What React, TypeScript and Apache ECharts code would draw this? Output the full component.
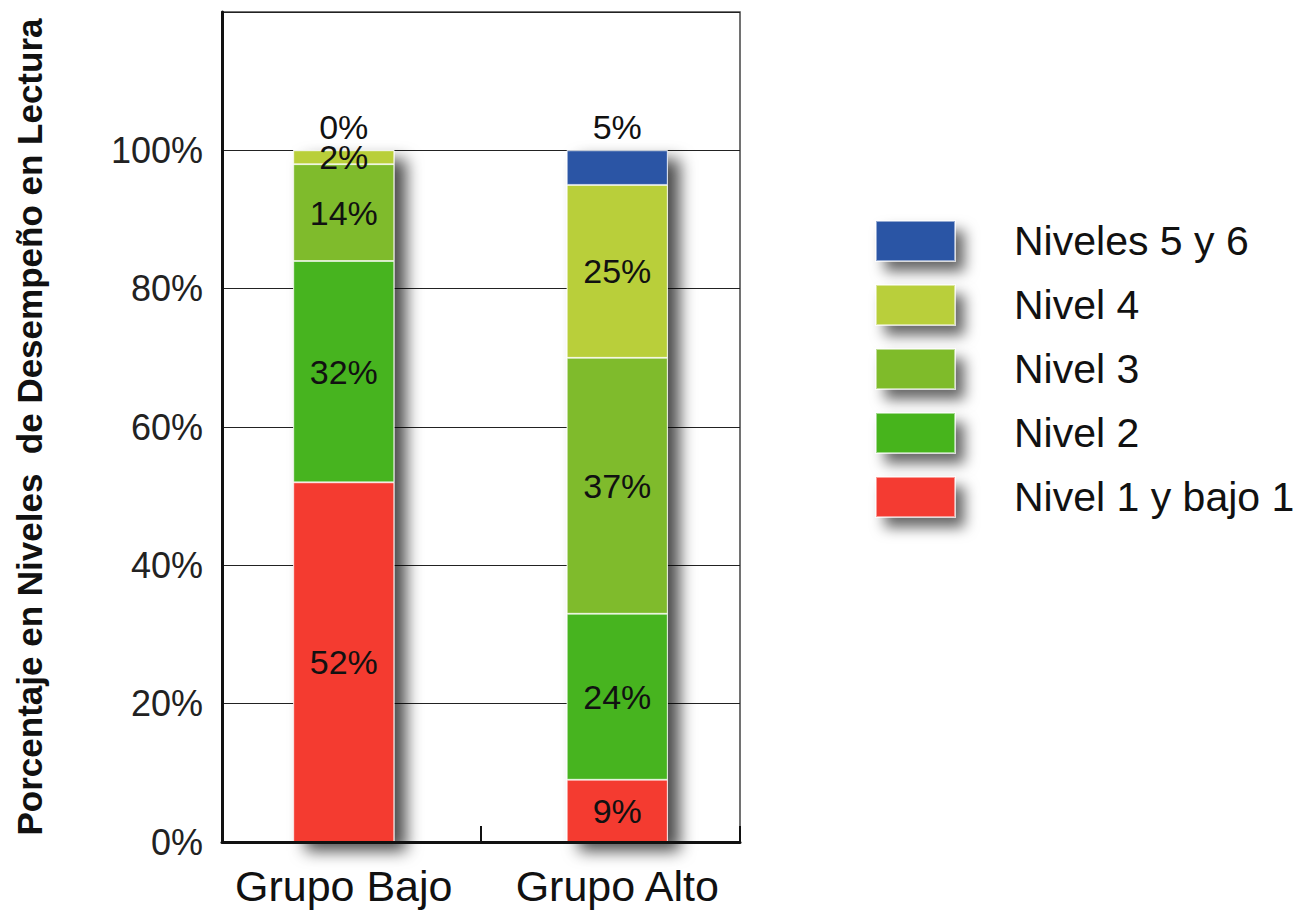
import React, { useEffect, useRef } from "react";
import * as echarts from "echarts";

const categories = ["Grupo Bajo", "Grupo Alto"];
const seriesNames = ["Nivel 1 y bajo 1", "Nivel 2", "Nivel 3", "Nivel 4", "Niveles 5 y 6"];
const nivel1 = [52, 9];
const nivel2 = [32, 24];
const nivel3 = [14, 37];
const nivel4 = [2, 25];
const nivel56 = [0, 5];
const yTicks = [0, 20, 40, 60, 80, 100];
const yTitle = "Porcentaje en Niveles  de Desempeño en Lectura";

const colors = ["#f43b30", "#47b41f", "#7fbb2c", "#b9cf3a", "#2b55a5"];
const font = "'Liberation Sans', Arial, Helvetica, sans-serif";

export default function App() {
  const ref = useRef<HTMLDivElement>(null);
  useEffect(() => {
    document.body.style.margin = "0";
    if (!ref.current) return;
    const chart = echarts.init(ref.current, null, { renderer: "svg" });
    const values = [nivel1, nivel2, nivel3, nivel4, nivel56];
    const totals = categories.map((_, i) => values.reduce((s, arr) => s + arr[i], 0));
    const barWidth = 101;
    chart.setOption({
      animation: false,
      backgroundColor: "#ffffff",
      grid: [
        {
          left: 222,
          right: 572,
          top: 12,
          bottom: 77,
          show: true,
          borderColor: "#444",
          borderWidth: 1.5,
          backgroundColor: "transparent",
        },
        {
          left: 207,
          right: 558,
          top: 12,
          bottom: 77,
        },
      ],
      legend: {
        orient: "vertical",
        left: 875,
        top: 220,
        padding: 0,
        itemWidth: 79,
        itemHeight: 40,
        itemGap: 22,
        icon: "rect",
        selectedMode: false,
        data: [...seriesNames].reverse(),
        textStyle: {
          fontSize: 41,
          color: "#111",
          fontFamily: font,
          lineHeight: 40,
          padding: [0, 0, 0, 54],
        },
        itemStyle: {
          shadowBlur: 14,
          shadowOffsetX: 9,
          shadowOffsetY: 10,
          shadowColor: "rgba(0,0,0,0.6)",
        },
      },
      xAxis: [
        {
          type: "category",
          gridIndex: 0,
          data: categories,
          axisLine: { lineStyle: { color: "#111", width: 3 } },
          axisTick: { show: true, inside: true, length: 16, lineStyle: { color: "#111", width: 2 } },
          axisLabel: { show: false },
          z: 3,
        },
        {
          type: "category",
          gridIndex: 1,
          data: categories,
          axisLine: { show: false },
          axisTick: { show: false },
          axisLabel: { interval: 0, fontSize: 43, color: "#111", margin: 22, fontFamily: font },
        },
      ],
      yAxis: [
        {
          type: "value",
          gridIndex: 0,
          min: 0,
          max: 120,
          interval: 20,
          axisLine: { show: true, lineStyle: { color: "#111", width: 3 } },
          axisTick: { show: false },
          splitLine: { lineStyle: { color: "#222", width: 1.2 } },
          axisLabel: {
            formatter: (v: number) => (yTicks.includes(v) ? `${v}%` : ""),
            fontSize: 36,
            color: "#222",
            margin: 19,
            fontFamily: font,
          },
          name: yTitle,
          nameLocation: "middle",
          nameRotate: 90,
          nameGap: 175,
          nameTextStyle: { fontSize: 35, fontWeight: "bold", color: "#111", fontFamily: font },
        },
        {
          type: "value",
          gridIndex: 1,
          min: 0,
          max: 120,
          interval: 20,
          show: false,
          splitLine: { show: false },
        },
      ],
      series: [
        {
          name: "sombra",
          type: "bar",
          xAxisIndex: 1,
          yAxisIndex: 1,
          data: totals,
          barWidth,
          barGap: "-100%",
          z: 1,
          silent: true,
          itemStyle: {
            color: "#ffffff",
            shadowBlur: 16,
            shadowOffsetX: 12,
            shadowOffsetY: 9,
            shadowColor: "rgba(0,0,0,0.7)",
          },
          label: { show: false },
        },
        ...values.map((d, i) => ({
          name: seriesNames[i],
          type: "bar",
          xAxisIndex: 1,
          yAxisIndex: 1,
          stack: "total",
          data: d,
          barWidth,
          barGap: "-100%",
          z: 2,
          itemStyle: { color: colors[i], borderColor: "rgba(255,255,255,0.5)", borderWidth: 1 },
          label: {
            show: true,
            position: i === values.length - 1 ? "top" : "inside",
            distance: 6,
            formatter: "{c}%",
            fontSize: 34,
            color: "#111",
            fontFamily: font,
            textBorderWidth: 0,
          },
        })),
      ],
    });
    return () => chart.dispose();
  }, []);
  return <div ref={ref} style={{ width: 1312, height: 919 }} />;
}
